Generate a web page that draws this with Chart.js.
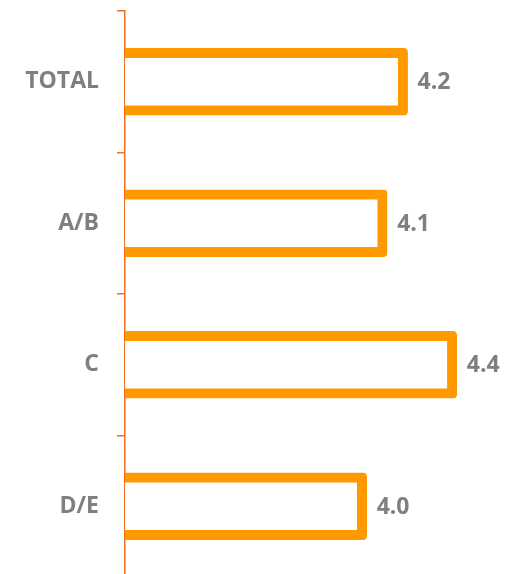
<!DOCTYPE html>
<html>
<head>
<meta charset="utf-8">
<script src="https://cdn.jsdelivr.net/npm/chart.js@4"></script>
<style>
  html, body { margin: 0; padding: 0; background: #fff; overflow: hidden; }
  #wrap { width: 516px; height: 580px; }
</style>
</head>
<body>
<div id="wrap"><canvas id="chart" width="516" height="580"></canvas></div>
<script>
const categories = ["TOTAL", "A/B", "C", "D/E"];
const scores = [4.2, 4.1, 4.44, 4.0];

const barColor = "#FF9900";
const axisColor = "#F07020";
const textColor = "#7F7F7F";
const fontFamily = "'Open Sans', Lato, sans-serif";

// value labels to the right of each bar
const valueLabels = {
    id: "valueLabels",
    afterDatasetsDraw(chart) {
        const ctx = chart.ctx;
        const meta = chart.getDatasetMeta(0);
        ctx.save();
        ctx.font = "bold 23px " + fontFamily;
        ctx.fillStyle = textColor;
        ctx.textAlign = "left";
        ctx.textBaseline = "middle";
        meta.data.forEach((bar, i) => {
            ctx.fillText(scores[i].toFixed(1), bar.x + 10, bar.y + 1);
        });
        ctx.restore();
    }
};

new Chart(document.getElementById("chart"), {
    type: "bar",
    data: {
        labels: categories,
        datasets: [{
            data: scores,
            backgroundColor: "#FFFFFF",
            borderColor: barColor,
            borderWidth: { top: 10, right: 10, bottom: 10, left: 7 },
            borderSkipped: false,
            borderRadius: 4,
            barThickness: 67
        }]
    },
    options: {
        indexAxis: "y",
        responsive: false,
        animation: false,
        layout: { padding: { top: 11, right: 6, bottom: 3, left: 0 } },
        plugins: {
            legend: { display: false },
            tooltip: { enabled: false }
        },
        scales: {
            x: {
                display: false,
                min: 2.82,
                max: 4.7
            },
            y: {
                z: 1,
                afterFit(scale) {
                    scale.width = 125;
                    scale.paddingTop = 0;
                    scale.paddingBottom = 0;
                },
                border: { display: true, color: axisColor, width: 1.5 },
                grid: {
                    drawOnChartArea: false,
                    drawTicks: true,
                    tickLength: 8,
                    color: axisColor,
                    lineWidth: 1.5
                },
                ticks: {
                    color: textColor,
                    padding: 18,
                    font: { family: fontFamily, size: 23, weight: "bold" }
                }
            }
        }
    },
    plugins: [valueLabels]
});
</script>
</body>
</html>
